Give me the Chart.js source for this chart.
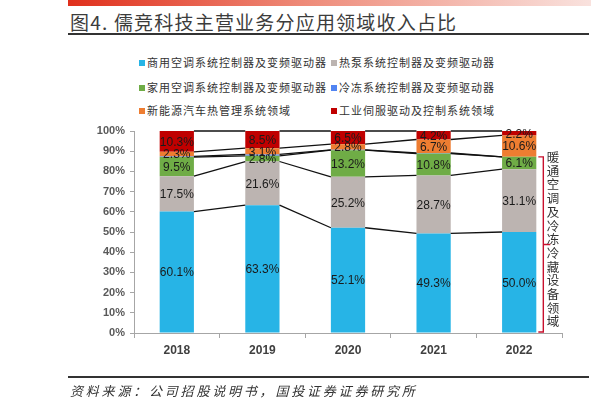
<!DOCTYPE html>
<html>
<head>
<meta charset="utf-8">
<script src="https://cdn.jsdelivr.net/npm/chart.js@4.4.1/dist/chart.umd.min.js"></script>
<style>
  html, body { margin: 0; padding: 0; background: #fff; }
  #wrap { position: relative; width: 591px; height: 408px; overflow: hidden; font-family: "Noto Sans CJK SC", sans-serif; }
  #chart { position: absolute; left: 0; top: 0; }
  .topbar { position: absolute; left: 68px; top: 0; width: 523px; height: 6px;
            background: linear-gradient(to right, #e0301c, #ee8a78 45%, #f9e2de); }
  .title { position: absolute; left: 70px; top: 8px; font-size: 19px; color: #3c3c3c; letter-spacing: 1.2px; white-space: nowrap; }
  .rule { position: absolute; left: 68px; width: 521px; height: 2px; background: #333; }
  .leg { position: absolute; font-size: 11px; color: #333; letter-spacing: 1px; white-space: nowrap; line-height: 14px; }
  .leg i { display: inline-block; width: 6px; height: 6px; margin-right: 2px; vertical-align: 1px; }
  .source { position: absolute; left: 70px; top: 381px; font-size: 13px; font-style: italic; color: #333; letter-spacing: 2.8px; white-space: nowrap; }
  .side { position: absolute; left: 546px; top: 150px; width: 14px; font-size: 12.5px; line-height: 13.7px; color: #333; text-align: center; word-break: break-all; }
</style>
</head>
<body>
<div id="wrap">
  <div class="topbar"></div>
  <div class="title">图4. 儒竞科技主营业务分应用领域收入占比</div>
  <div class="rule" style="top:33px"></div>
  <div id="legend"></div>
  <canvas id="chart" width="591" height="408"></canvas>
  <div class="side">暖通空调及冷冻冷藏设备领域</div>
  <div class="rule" style="top:376px"></div>
  <div class="source">资料来源：公司招股说明书，国投证券证券研究所</div>
</div>
<script>
// categories
const years = ["2018", "2019", "2020", "2021", "2022"];
// series (share of revenue, %)
const seriesNames = [
    "商用空调系统控制器及变频驱动器",
    "热泵系统控制器及变频驱动器",
    "家用空调系统控制器及变频驱动器",
    "冷冻系统控制器及变频驱动器",
    "新能源汽车热管理系统领域",
    "工业伺服驱动及控制系统领域"
];
const commercialAC = [60.1, 63.3, 52.1, 49.3, 50.0];
const heatPump = [17.5, 21.6, 25.2, 28.7, 31.1];
const householdAC = [9.5, 2.8, 13.2, 10.8, 6.1];
const freezing = [0.3, 0.7, 0.2, 0.3, 0.0];
const evThermal = [2.3, 3.1, 2.8, 6.7, 10.6];
const industrialServo = [10.3, 8.5, 6.5, 4.2, 2.2];
const yTicks = [0, 10, 20, 30, 40, 50, 60, 70, 80, 90, 100];

const seriesData = [commercialAC, heatPump, householdAC, freezing, evThermal, industrialServo];
const seriesColors = ["#27b4e6", "#bcb4b1", "#6fac46", "#5184f2", "#ee7d31", "#c00000"];
const showLabel = [true, true, true, false, true, true];

// legend, two per row
const legendDiv = document.getElementById("legend");
seriesNames.forEach((name, i) => {
    const item = document.createElement("div");
    item.className = "leg";
    item.style.left = (i % 2 === 0 ? 139 : 331) + "px";
    item.style.top = [55, 80, 103][Math.floor(i / 2)] + "px";
    item.innerHTML = '<i style="background:' + seriesColors[i] + '"></i>' + name;
    legendDiv.appendChild(item);
});

// lines joining segment tops between neighbouring bars, plus value labels
const seriesLinesPlugin = {
    id: "seriesLines",
    afterDatasetsDraw(chart) {
        const ctx = chart.ctx;
        ctx.save();
        ctx.strokeStyle = "#111";
        ctx.lineWidth = 1.3;
        chart.data.datasets.forEach((ds, k) => {
            const bars = chart.getDatasetMeta(k).data;
            for (let i = 0; i < bars.length - 1; i++) {
                const a = bars[i], b = bars[i + 1];
                ctx.beginPath();
                ctx.moveTo(a.x + a.width / 2, a.y);
                ctx.lineTo(b.x - b.width / 2, b.y);
                ctx.stroke();
            }
        });
        ctx.font = "12px 'Liberation Sans', Arial, sans-serif";
        ctx.fillStyle = "#1a1a1a";
        ctx.textAlign = "center";
        ctx.textBaseline = "middle";
        chart.data.datasets.forEach((ds, k) => {
            if (!showLabel[k]) return;
            chart.getDatasetMeta(k).data.forEach((bar, i) => {
                const v = ds.data[i];
                if (!v) return;
                ctx.fillText(v.toFixed(1) + "%", bar.x, (bar.y + bar.base) / 2 + 1);
            });
        });
        // bracket around the HVAC / refrigeration segments of the last bar
        const yScale = chart.scales.y;
        const last = years.length - 1;
        const hvacTop = commercialAC[last] + heatPump[last] + householdAC[last] + freezing[last];
        const lastBar = chart.getDatasetMeta(0).data[last];
        const bx = lastBar.x + lastBar.width / 2 + 7;
        const y0 = yScale.getPixelForValue(0) - 1;
        const y1 = yScale.getPixelForValue(hvacTop);
        const ym = (y0 + y1) / 2;
        ctx.strokeStyle = "#c8102e";
        ctx.lineWidth = 1.4;
        ctx.beginPath();
        ctx.moveTo(bx - 5, y1);
        ctx.lineTo(bx, y1);
        ctx.lineTo(bx, y0);
        ctx.lineTo(bx - 5, y0);
        ctx.moveTo(bx, ym);
        ctx.lineTo(bx + 7, ym);
        ctx.stroke();
        ctx.restore();
    }
};

const ctx = document.getElementById("chart").getContext("2d");
const shareChart = new Chart(ctx, {
    type: "bar",
    data: {
        labels: years,
        datasets: seriesData.map((d, i) => ({
            label: seriesNames[i],
            data: d,
            backgroundColor: seriesColors[i],
            borderWidth: 0,
            barPercentage: 0.4,
            categoryPercentage: 1.0,
            stack: "share"
        }))
    },
    options: {
        responsive: false,
        animation: false,
        devicePixelRatio: 1,
        layout: { padding: { left: 94, right: 29, top: 131, bottom: 45 } },
        plugins: {
            legend: { display: false },
            tooltip: { enabled: false }
        },
        scales: {
            x: {
                stacked: true,
                afterFit: (s) => { s.height = 30; },
                grid: { drawOnChartArea: false, drawTicks: true, tickLength: 5, color: "#a6a6a6", offset: true },
                border: { color: "#a6a6a6", width: 1 },
                ticks: {
                    padding: 5,
                    color: "#404040",
                    font: { family: "'Liberation Sans', Arial, sans-serif", size: 12, weight: "bold" }
                }
            },
            y: {
                stacked: true,
                min: 0,
                max: 100,
                afterFit: (s) => { s.width = 40; },
                afterBuildTicks: (s) => { s.ticks = yTicks.map((v) => ({ value: v })); },
                grid: { drawOnChartArea: false, drawTicks: true, tickLength: 4, color: "#a6a6a6" },
                border: { color: "#a6a6a6", width: 1 },
                ticks: {
                    padding: 5,
                    color: "#595959",
                    font: { family: "'Liberation Sans', Arial, sans-serif", size: 11, weight: "bold" },
                    callback: (v) => v + "%"
                }
            }
        }
    },
    plugins: [seriesLinesPlugin]
});
</script>
</body>
</html>
